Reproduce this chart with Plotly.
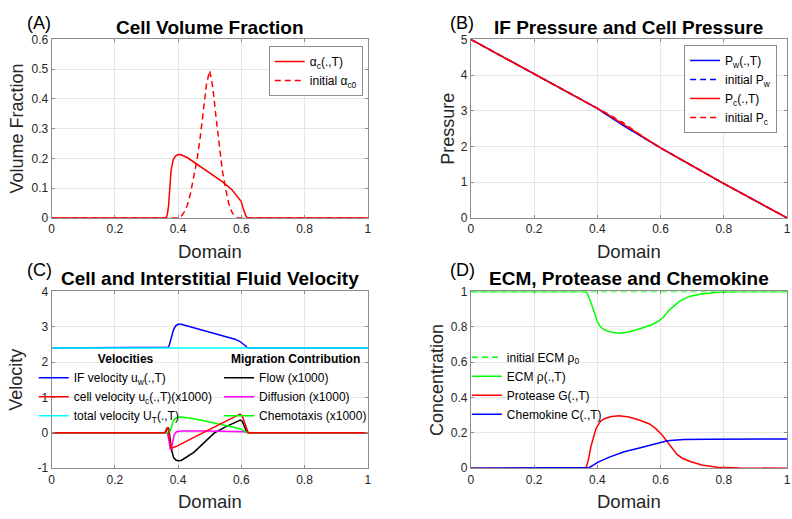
import plotly.graph_objects as go

# ---------------- Data ----------------
# Panel A: cell volume fraction
xA_c = [0, 0.362, 0.366, 0.370, 0.374, 0.378, 0.385, 0.392, 0.40, 0.41, 0.43, 0.46, 0.50, 0.54, 0.57, 0.59, 0.60, 0.605, 0.61, 0.615, 0.62, 1]
alpha_c = [0, 0, 0.01, 0.04, 0.10, 0.16, 0.196, 0.208, 0.213, 0.212, 0.202, 0.181, 0.153, 0.122, 0.095, 0.07, 0.055, 0.035, 0.016, 0.005, 0, 0]
xA_0 = [0, 0.40, 0.41, 0.42, 0.43, 0.44, 0.45, 0.46, 0.47, 0.48, 0.49, 0.50, 0.51, 0.52, 0.53, 0.54, 0.55, 0.56, 0.57, 0.58, 0.59, 1]
alpha_c0 = [0, 0, 0.005, 0.02, 0.045, 0.085, 0.14, 0.195, 0.27, 0.36, 0.45, 0.495, 0.44, 0.34, 0.24, 0.16, 0.10, 0.05, 0.02, 0.005, 0, 0]

# Panel B: pressures
xB = [0, 0.2, 0.38, 0.40, 0.42, 0.43, 0.44, 0.45, 0.46, 0.47, 0.48, 0.49, 0.50, 0.51, 0.52, 0.55, 0.60, 0.80, 1]
P_c = [5, 4.04, 3.17, 3.08, 2.968, 2.912, 2.856, 2.80, 2.744, 2.688, 2.632, 2.576, 2.52, 2.464, 2.408, 2.24, 1.96, 0.96, 0]
P_w = [5, 4.04, 3.17, 3.07, 2.945, 2.885, 2.826, 2.768, 2.712, 2.656, 2.60, 2.545, 2.49, 2.435, 2.38, 2.225, 1.96, 0.96, 0]
P_w0 = [5, 4.04, 3.17, 3.07, 2.95, 2.89, 2.83, 2.77, 2.715, 2.66, 2.605, 2.55, 2.495, 2.44, 2.385, 2.23, 1.96, 0.96, 0]
P_c0 = [5, 4.04, 3.17, 3.08, 2.97, 2.93, 2.89, 2.83, 2.77, 2.71, 2.68, 2.60, 2.55, 2.49, 2.41, 2.24, 1.96, 0.96, 0]

# Panel C: velocities
xC_w = [0, 0.365, 0.369, 0.373, 0.378, 0.385, 0.392, 0.40, 0.41, 0.45, 0.50, 0.55, 0.58, 0.595, 0.605, 0.612, 0.618, 0.622, 1]
u_w = [2.4, 2.4, 2.42, 2.5, 2.7, 2.9, 3.02, 3.07, 3.07, 2.97, 2.85, 2.73, 2.65, 2.59, 2.53, 2.47, 2.42, 2.4, 2.4]
xC_c = [0, 0.358, 0.362, 0.366, 0.369, 0.373, 0.377, 0.381, 0.386, 0.40, 0.45, 0.50, 0.55, 0.58, 0.59, 0.596, 0.603, 0.61, 0.616, 0.622, 1]
u_c = [0, 0, 0.08, 0.16, 0.1, -0.2, -0.4, -0.43, -0.41, -0.36, -0.13, 0.1, 0.33, 0.47, 0.51, 0.53, 0.48, 0.3, 0.12, 0, 0]
xC_T = [0, 0.5, 1]
U_T = [2.4, 2.4, 2.4]
xC_f = [0, 0.36, 0.364, 0.368, 0.371, 0.375, 0.38, 0.386, 0.393, 0.40, 0.41, 0.45, 0.50, 0.515, 0.55, 0.58, 0.597, 0.603, 0.609, 0.615, 0.622, 1]
flow = [0, 0, 0.08, 0.16, 0.1, -0.2, -0.5, -0.7, -0.77, -0.79, -0.78, -0.55, -0.13, 0, 0.17, 0.3, 0.36, 0.33, 0.2, 0.07, 0, 0]
xC_d = [0, 0.365, 0.369, 0.373, 0.376, 0.379, 0.383, 0.388, 0.395, 0.41, 0.50, 0.60, 0.61, 0.62, 1]
diffusion = [0, 0, -0.1, -0.35, -0.48, -0.45, -0.25, -0.05, 0.03, 0.05, 0.05, 0.05, 0.03, 0, 0]
xC_x = [0, 0.37, 0.375, 0.38, 0.385, 0.39, 0.40, 0.41, 0.45, 0.50, 0.55, 0.59, 0.60, 0.61, 0.62, 1]
chemotaxis = [0, 0, 0.05, 0.2, 0.33, 0.4, 0.44, 0.45, 0.4, 0.31, 0.22, 0.13, 0.1, 0.05, 0, 0]

# Panel D: ECM, protease, chemokine
xD_0 = [0, 1]
rho_0 = [1, 1]
xD_r = [0, 0.362, 0.368, 0.375, 0.38, 0.391, 0.40, 0.41, 0.42, 0.433, 0.45, 0.469, 0.50, 0.537, 0.57, 0.589, 0.60, 0.61, 0.625, 0.642, 0.66, 0.694, 0.73, 0.78, 0.85, 1]
rho = [1, 1, 0.99, 0.96, 0.936, 0.88, 0.83, 0.80, 0.785, 0.776, 0.767, 0.763, 0.77, 0.79, 0.81, 0.827, 0.84, 0.855, 0.89, 0.918, 0.945, 0.973, 0.985, 0.995, 1, 1]
xD_g = [0, 0.362, 0.366, 0.372, 0.38, 0.388, 0.396, 0.41, 0.422, 0.445, 0.469, 0.50, 0.537, 0.565, 0.584, 0.605, 0.621, 0.635, 0.652, 0.67, 0.694, 0.73, 0.78, 0.85, 1]
protease = [0, 0, 0.01, 0.05, 0.124, 0.18, 0.225, 0.265, 0.28, 0.293, 0.297, 0.29, 0.27, 0.25, 0.225, 0.188, 0.152, 0.115, 0.078, 0.055, 0.038, 0.018, 0.006, 0.001, 0]
xD_c = [0, 0.365, 0.375, 0.39, 0.401, 0.44, 0.485, 0.53, 0.579, 0.61, 0.621, 0.64, 0.673, 0.75, 1]
chemokine = [0, 0, 0.004, 0.02, 0.033, 0.064, 0.093, 0.113, 0.133, 0.15, 0.155, 0.159, 0.162, 0.164, 0.165]

# Tick labels
x_ticks = [0, 0.2, 0.4, 0.6, 0.8, 1]
x_ticktext = ["0", "0.2", "0.4", "0.6", "0.8", "1"]
yA_ticks = [0, 0.1, 0.2, 0.3, 0.4, 0.5, 0.6]
yA_ticktext = ["0", "0.1", "0.2", "0.3", "0.4", "0.5", "0.6"]
yB_ticks = [0, 1, 2, 3, 4, 5]
yB_ticktext = ["0", "1", "2", "3", "4", "5"]
yC_ticks = [-1, 0, 1, 2, 3, 4]
yC_ticktext = ["-1", "0", "1", "2", "3", "4"]
yD_ticks = [0, 0.2, 0.4, 0.6, 0.8, 1]
yD_ticktext = ["0", "0.2", "0.4", "0.6", "0.8", "1"]

# ---------------- Figure ----------------
W, H = 792, 519
FONT = "Liberation Sans, Arial, sans-serif"
TXT = "#262626"
LW = 1.5
DASH = "6px,4px"

fig = go.Figure()

def add(x, y, name, color, ax, legend, dash="solid"):
    fig.add_trace(go.Scatter(
        x=x, y=y, name=name, mode="lines",
        line=dict(color=color, width=LW, dash=dash),
        xaxis="x" + ax, yaxis="y" + ax, legend=legend,
    ))

# A
add(xA_c, alpha_c, "α<sub>c</sub>(.,T)", "#ff0000", "", "legend")
add(xA_0, alpha_c0, "initial α<sub>c0</sub>", "#ff0000", "", "legend", DASH)
# B
add(xB, P_w, "P<sub>w</sub>(.,T)", "#0000ff", "2", "legend2")
add(xB, P_w0, "initial P<sub>w</sub>", "#0000ff", "2", "legend2", DASH)
add(xB, P_c, "P<sub>c</sub>(.,T)", "#ff0000", "2", "legend2")
add(xB, P_c0, "initial P<sub>c</sub>", "#ff0000", "2", "legend2", DASH)
# C - migration contributions first (drawn beneath)
add(xC_f, flow, "Flow (x1000)", "#000000", "3", "legend4")
add(xC_d, diffusion, "Diffusion (x1000)", "#ff00ff", "3", "legend4")
add(xC_x, chemotaxis, "Chemotaxis (x1000)", "#00ff00", "3", "legend4")
add(xC_w, u_w, "IF velocity u<sub>w</sub>(.,T)", "#0000ff", "3", "legend3")
add(xC_c, u_c, "cell velocity u<sub>c</sub>(.,T)(x1000)", "#ff0000", "3", "legend3")
add(xC_T, U_T, "total velocity U<sub>T</sub>(.,T)", "#00ffff", "3", "legend3")
# D
add(xD_0, rho_0, "initial ECM ρ<sub>0</sub>", "#00ff00", "4", "legend5", DASH)
add(xD_r, rho, "ECM ρ(.,T)", "#00ff00", "4", "legend5")
add(xD_g, protease, "Protease G(.,T)", "#ff0000", "4", "legend5")
add(xD_c, chemokine, "Chemokine C(.,T)", "#0000ff", "4", "legend5")

# axes geometry (pixels)
L1, R1 = 49, 368
L2, R2 = 472, 791
T1, B1 = 33.3, 216.7
T2, B2 = 292.3, 474.0

def px(v):
    return v / W

def py(v):
    return 1 - v / H

axis_common = dict(
    showline=True, linecolor="#8c8c8c", linewidth=1, mirror="ticks",
    showgrid=True, gridcolor="#e6e6e6", gridwidth=1,
    zeroline=False, ticks="inside", ticklen=3, tickcolor="#8c8c8c",
    tickfont=dict(family=FONT, size=12, color=TXT),
    fixedrange=True,
)

def xax(l, r, anchor):
    return dict(domain=[px(l), px(r)], range=[0, 1], tickvals=x_ticks, ticktext=x_ticktext,
                anchor=anchor, **axis_common)

def yax(t, b, rng, tv, tt, anchor):
    return dict(domain=[py(b), py(t)], range=rng, tickvals=tv, ticktext=tt,
                anchor=anchor, **axis_common)

legend_font = dict(family=FONT, size=12, color="#000000")

fig.update_layout(
    width=W, height=H, autosize=False,
    margin=dict(l=0, r=0, t=0, b=0),
    paper_bgcolor="white", plot_bgcolor="white",
    font=dict(family=FONT, color=TXT),
    xaxis=xax(L1, R1, "y"), yaxis=yax(T1, B1, [0, 0.6], yA_ticks, yA_ticktext, "x"),
    xaxis2=xax(L2, R2, "y2"), yaxis2=yax(T1, B1, [0, 5], yB_ticks, yB_ticktext, "x2"),
    xaxis3=xax(L1, R1, "y3"), yaxis3=yax(T2, B2, [-1, 4], yC_ticks, yC_ticktext, "x3"),
    xaxis4=xax(L2, R2, "y4"), yaxis4=yax(T2, B2, [0, 1], yD_ticks, yD_ticktext, "x4"),
    legend=dict(x=px(363), y=py(40), xanchor="right", yanchor="top",
                bgcolor="white", bordercolor="#8c8c8c", borderwidth=1,
                font=legend_font),
    legend2=dict(x=px(781), y=py(39), xanchor="right", yanchor="top",
                 bgcolor="white", bordercolor="#8c8c8c", borderwidth=1,
                 font=legend_font),
    legend3=dict(x=px(31), y=py(350), xanchor="left", yanchor="top",
                 bgcolor="rgba(0,0,0,0)", borderwidth=0, font=legend_font,
                 title=dict(text="<b>Velocities</b>", side="top center",
                            font=dict(family=FONT, size=12, color="#000000"))),
    legend4=dict(x=px(218), y=py(350), xanchor="left", yanchor="top",
                 bgcolor="rgba(0,0,0,0)", borderwidth=0, font=legend_font,
                 title=dict(text="<b>Migration Contribution</b>", side="top center",
                            font=dict(family=FONT, size=12, color="#000000"))),
    legend5=dict(x=px(468), y=py(345), xanchor="left", yanchor="top",
                 bgcolor="rgba(0,0,0,0)", borderwidth=0, font=legend_font),
    showlegend=True,
)

annotations = []

def ann(text, x, y, size, xanchor="center", angle=0, color=TXT):
    annotations.append(dict(text=text, x=px(x), y=py(y), xref="paper", yref="paper",
                            xanchor=xanchor, yanchor="middle", showarrow=False,
                            textangle=angle, font=dict(family=FONT, size=size, color=color)))

# titles
ann("<b>Cell Volume Fraction</b>", (L1 + R1) / 2, 21, 19, color="#000000")
ann("<b>IF Pressure and Cell Pressure</b>", (L2 + R2) / 2, 21, 19, color="#000000")
ann("<b>Cell and Interstitial Fluid Velocity</b>", (L1 + R1) / 2, 279, 19, color="#000000")
ann("<b>ECM, Protease and Chemokine</b>", (L2 + R2) / 2, 279, 19, color="#000000")
# panel letters
ann("(A)", 22, 16, 18, "left", color="#000000")
ann("(B)", 449, 16, 18, "left", color="#000000")
ann("(C)", 22, 270, 18, "left", color="#000000")
ann("(D)", 449, 270, 18, "left", color="#000000")
# axis labels
ann("Domain", (L1 + R1) / 2, 251.5, 18.5)
ann("Domain", (L2 + R2) / 2, 251.5, 18.5)
ann("Domain", (L1 + R1) / 2, 508, 18.5)
ann("Domain", (L2 + R2) / 2, 508, 18.5)
ann("Volume Fraction", 14, (T1 + B1) / 2, 18, angle=-90)
ann("Pressure", 449, (T1 + B1) / 2, 18, angle=-90)
ann("Velocity", 13, (T2 + B2) / 2, 18, angle=-90)
ann("Concentration", 438, (T2 + B2) / 2, 18, angle=-90)

fig.update_layout(annotations=annotations)

fig.write_html("out.html", config={"displayModeBar": False})
